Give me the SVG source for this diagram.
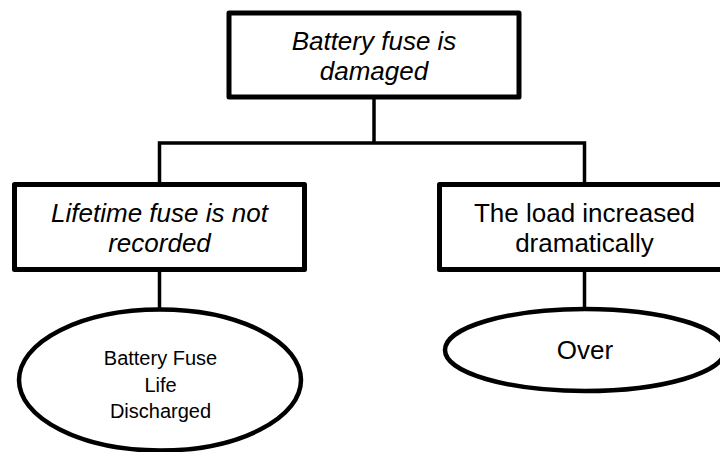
<svg xmlns="http://www.w3.org/2000/svg" width="720" height="452" viewBox="0 0 720 452">
  <style>
    .box { fill: #ffffff; stroke: #000000; stroke-width: 5; stroke-linejoin: round; }
    .oval { fill: #ffffff; stroke: #000000; stroke-width: 4.5; }
    .conn { fill: none; stroke: #000000; stroke-width: 3.5; stroke-linejoin: miter; }
    .t { font-family: "Liberation Sans", Arial, sans-serif; fill: #000000; text-anchor: middle; }
    .big { font-size: 26px; }
    .it { font-style: italic; }
    .small { font-size: 20px; }
  </style>
  <defs>
    <clipPath id="clipLeftOval">
      <rect x="0" y="300" width="330" height="122"/>
    </clipPath>
  </defs>
  <rect width="720" height="452" fill="#ffffff"/>

  <g id="connectors">
    <line class="conn" x1="374" y1="97" x2="374" y2="143"/>
    <polyline class="conn" points="159.5,184.5 159.5,143 584.5,143 584.5,184.5"/>
    <line class="conn" x1="159.5" y1="269.5" x2="159.5" y2="310"/>
    <line class="conn" x1="584.5" y1="269.5" x2="584.5" y2="310"/>
  </g>

  <g id="node-top">
    <rect class="box" x="229" y="13" width="290" height="84"/>
    <text class="t big it" x="374" y="50">Battery fuse is</text>
    <text class="t big it" x="374" y="80">damaged</text>
  </g>

  <g id="node-left">
    <rect class="box" x="14.5" y="184.5" width="290" height="85"/>
    <text class="t big it" x="159.5" y="222">Lifetime fuse is not</text>
    <text class="t big it" x="159.5" y="252">recorded</text>
  </g>

  <g id="node-right">
    <rect class="box" x="439.5" y="184.5" width="290" height="85"/>
    <text class="t big" x="584.5" y="222">The load increased</text>
    <text class="t big" x="584.5" y="252">dramatically</text>
  </g>

  <g id="node-left-oval">
    <ellipse class="oval" cx="160" cy="380" rx="141" ry="70.5"/>
    <g clip-path="url(#clipLeftOval)">
      <text class="t small" x="160.5" y="365">Battery Fuse</text>
      <text class="t small" x="160.5" y="392">Life</text>
      <text class="t small" x="160.5" y="418">Discharged</text>
    </g>
  </g>

  <g id="node-right-oval">
    <ellipse class="oval" cx="585" cy="350" rx="140" ry="41"/>
    <text class="t big" x="585" y="359">Over</text>
  </g>
</svg>
